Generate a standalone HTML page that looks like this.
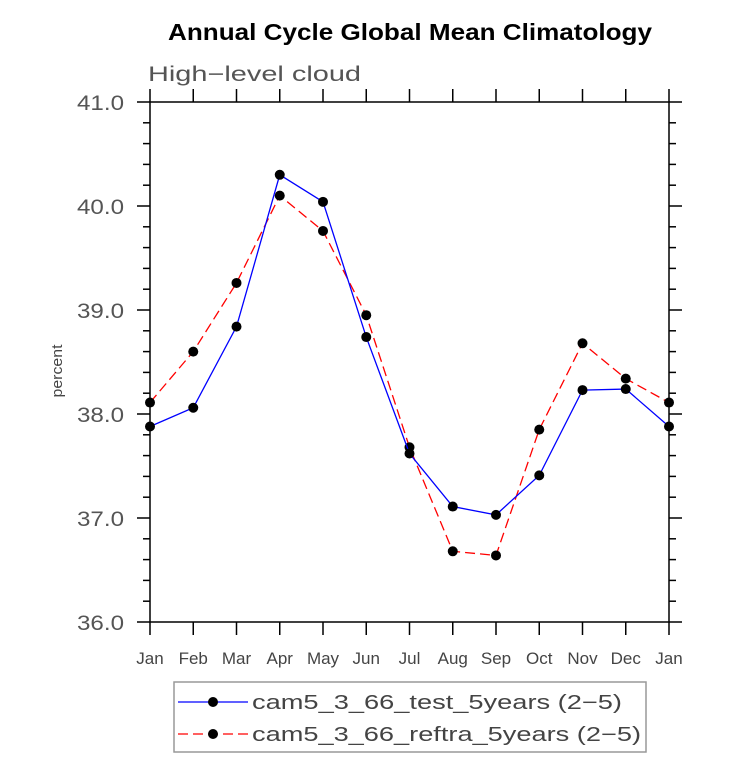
<!DOCTYPE html>
<html><head><meta charset="utf-8"><style>
body{margin:0;background:#fff;}
svg text{font-family:"Liberation Sans",sans-serif;}
</style></head><body>
<svg id="chart" width="733" height="757" xmlns="http://www.w3.org/2000/svg">
<text x="168" y="40" textLength="484" lengthAdjust="spacingAndGlyphs" font-size="23" font-weight="bold" fill="#000">Annual Cycle Global Mean Climatology</text>
<text x="148" y="81" textLength="213" lengthAdjust="spacingAndGlyphs" font-size="21" fill="#555">High−level cloud</text>
<text transform="translate(62,371) rotate(-90)" text-anchor="middle" textLength="53" lengthAdjust="spacingAndGlyphs" font-size="15" fill="#444">percent</text>
<g id="ticks"></g>
<rect x="150" y="102" width="519" height="520" fill="none" stroke="#000" stroke-width="1.5"/>
<g id="series"></g>
<g>
<rect x="174" y="682" width="472" height="70" fill="none" stroke="#999" stroke-width="1.5"/>
<g>
<line x1="178" y1="702" x2="248" y2="702" stroke="#0000ff" stroke-width="1.3"/>
<circle cx="213" cy="702" r="5" fill="#000"/>
<text x="252" y="709" textLength="370" lengthAdjust="spacingAndGlyphs" font-size="20" fill="#444">cam5_3_66_test_5years (2−5)</text></g>
<g>
<line x1="178" y1="734" x2="248" y2="734" stroke="#ff0000" stroke-width="1.3" stroke-dasharray="10,5"/>
<circle cx="213" cy="734" r="5" fill="#000"/>
<text x="252" y="741" textLength="389" lengthAdjust="spacingAndGlyphs" font-size="20" fill="#444">cam5_3_66_reftra_5years (2−5)</text></g>
</g>
</svg>
<script>
const months=["Jan","Feb","Mar","Apr","May","Jun","Jul","Aug","Sep","Oct","Nov","Dec","Jan"];
const testValues=[37.88,38.06,38.84,40.30,40.04,38.74,37.62,37.11,37.03,37.41,38.23,38.24,37.88];
const refValues=[38.11,38.60,39.26,40.10,39.76,38.95,37.68,36.68,36.64,37.85,38.68,38.34,38.11];
const yTickLabels=["36.0","37.0","38.0","39.0","40.0","41.0"];
const NS="http://www.w3.org/2000/svg";
const X0=150,X1=669,Y0=622,Y1=102,YMIN=36,YMAX=41;
const xs=i=>X0+(X1-X0)*i/(months.length-1);
const ys=v=>Y0-(Y0-Y1)*(v-YMIN)/(YMAX-YMIN);
function mk(tag,at,parent){const e=document.createElementNS(NS,tag);for(const k in at)e.setAttribute(k,at[k]);parent.appendChild(e);return e;}
const tg=document.getElementById('ticks');
months.forEach((m,i)=>{
  const x=xs(i);
  const b=mk('line',{x1:x,y1:Y0,x2:x,y2:Y0+13,stroke:'#000','stroke-width':1.5},tg);
  
  
  const t=mk('line',{x1:x,y1:Y1,x2:x,y2:Y1-13,stroke:'#000','stroke-width':1.5},tg);
  
  
  const l=mk('text',{x:x,y:664,'text-anchor':'middle','font-size':17,fill:'#444'},tg);
  l.textContent=m;
  
  
});
for(let k=0;k<=25;k++){
  const v=YMIN+k*0.2,y=ys(v),major=k%5===0,len=major?13:7;
  [[X0,-len],[X1,len]].forEach(([x,d])=>{
    const e=mk('line',{x1:x,y1:y,x2:x+d,y2:y,stroke:'#000','stroke-width':1.5},tg);
    
    
  });
}
yTickLabels.forEach(s=>{
  const t=mk('text',{x:124,y:ys(parseFloat(s))+8,'text-anchor':'end','font-size':21,fill:'#555',textLength:47,lengthAdjust:'spacingAndGlyphs'},tg);
  t.textContent=s;
  
  
});
const sg=document.getElementById('series');
function series(vals,color,dash,name){
  const g=mk('g',{},sg);
  
  
  const p=mk('polyline',{points:vals.map((v,i)=>xs(i)+','+ys(v)).join(' '),fill:'none',stroke:color,'stroke-width':1.3},g);
  if(dash)p.setAttribute('stroke-dasharray',dash);
  
  
  vals.forEach((v,i)=>{
    const c=mk('circle',{cx:xs(i),cy:ys(v),r:5,fill:'#000'},g);
    
    
  });
}
series(refValues,'#ff0000','10,5','ref-series');
series(testValues,'#0000ff',null,'test-series');
</script>
</body></html>
